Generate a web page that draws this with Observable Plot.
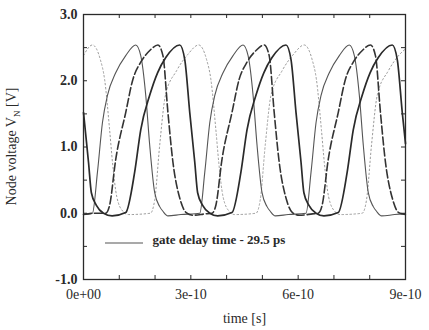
<!DOCTYPE html>
<html><head><meta charset="utf-8">
<script src="https://cdn.jsdelivr.net/npm/d3@7"></script>
<script src="https://cdn.jsdelivr.net/npm/@observablehq/plot@0.6"></script>
<style>body{margin:0;background:#fff;}</style>
</head><body><div id="chart"></div>
<script>
// time values in units of 1e-10 s, node voltages in V
const T_UNIT = 1e-10;

// thin solid node
const thinT = [0, 0.25, 0.39, 0.53, 0.67, 0.90, 1.18, 1.46, 1.60, 1.74, 1.85, 1.99, 2.13, 2.22, 2.36, 2.72,
  3.25, 3.39, 3.53, 3.67, 3.90, 4.18, 4.46, 4.60, 4.74, 4.85, 4.99, 5.13, 5.22, 5.36, 5.72,
  6.22, 6.36, 6.50, 6.64, 6.87, 7.15, 7.43, 7.57, 7.71, 7.82, 7.96, 8.10, 8.19, 8.33, 8.70, 9.0];
const thinV = [-0.02, 0.0, 0.62, 1.37, 1.78, 2.12, 2.38, 2.54, 2.38, 1.78, 1.03, 0.31, 0.10, 0.03, -0.04, -0.02,
  0.0, 0.62, 1.37, 1.78, 2.12, 2.38, 2.54, 2.38, 1.78, 1.03, 0.31, 0.10, 0.03, -0.04, -0.02,
  0.0, 0.62, 1.37, 1.78, 2.12, 2.38, 2.54, 2.38, 1.78, 1.03, 0.31, 0.10, 0.03, -0.04, -0.02, -0.01];

// dashed node
const dashT = [0, 0.30, 0.62,
  0.73, 0.90, 1.18, 1.38, 1.60, 1.86, 2.08, 2.22, 2.36, 2.50, 2.70, 2.87, 3.06, 3.40,
  3.59, 3.70, 3.87, 4.15, 4.35, 4.57, 4.83, 5.05, 5.19, 5.33, 5.47, 5.67, 5.84, 6.03, 6.40,
  6.56, 6.67, 6.84, 7.12, 7.32, 7.54, 7.80, 8.02, 8.16, 8.30, 8.44, 8.64, 8.81, 9.0];
const dashV = [-0.02, 0.0, 0.0,
  0.12, 0.81, 1.52, 2.02, 2.28, 2.46, 2.54, 2.38, 1.52, 0.77, 0.21, 0.01, -0.03, -0.01,
  0.0, 0.12, 0.81, 1.52, 2.02, 2.28, 2.46, 2.54, 2.38, 1.52, 0.77, 0.21, 0.01, -0.03, -0.01,
  0.0, 0.12, 0.81, 1.52, 2.02, 2.28, 2.46, 2.54, 2.38, 1.52, 0.77, 0.21, 0.01, -0.02];

// thick solid node
const thickT = [0, 0.06, 0.14, 0.22, 0.36, 0.56, 0.80,
  1.18, 1.43, 1.60, 1.85, 2.07, 2.30, 2.69, 2.83, 2.97, 3.11, 3.19, 3.33, 3.53, 3.75,
  4.15, 4.40, 4.57, 4.82, 5.04, 5.27, 5.66, 5.80, 5.94, 6.08, 6.16, 6.30, 6.50, 6.72,
  7.12, 7.37, 7.54, 7.79, 8.01, 8.24, 8.63, 8.77, 8.91, 9.0];
const thickV = [1.52, 1.20, 0.77, 0.31, 0.12, 0.0, -0.04,
  0.01, 0.62, 1.26, 1.78, 2.12, 2.35, 2.54, 2.32, 1.52, 0.77, 0.31, 0.12, 0.0, -0.04,
  0.01, 0.62, 1.26, 1.78, 2.12, 2.35, 2.54, 2.32, 1.52, 0.77, 0.31, 0.12, 0.0, -0.04,
  0.01, 0.62, 1.26, 1.78, 2.12, 2.35, 2.54, 2.32, 1.52, 1.05];

// dotted node
const dotT = [0, 0.25, 0.47, 0.59, 0.73, 0.81, 0.93, 1.10, 1.25,
  1.87, 1.99, 2.13, 2.29, 2.60, 2.92, 3.22, 3.44, 3.56, 3.70, 3.78, 3.90, 4.07, 4.22,
  4.82, 4.94, 5.08, 5.24, 5.55, 5.87, 6.17, 6.39, 6.51, 6.65, 6.73, 6.85, 7.02, 7.17,
  7.79, 7.91, 8.05, 8.21, 8.52, 8.84, 9.0];
const dotV = [2.38, 2.54, 2.32, 2.02, 1.26, 0.77, 0.25, 0.03, -0.02,
  0.0, 0.2, 1.03, 1.78, 2.15, 2.4, 2.54, 2.32, 2.02, 1.26, 0.77, 0.25, 0.03, -0.02,
  0.0, 0.2, 1.03, 1.78, 2.15, 2.4, 2.54, 2.32, 2.02, 1.26, 0.77, 0.25, 0.03, -0.02,
  0.0, 0.2, 1.03, 1.78, 2.15, 2.4, 2.48];

const xTicks = [0, 3e-10, 6e-10, 9e-10];
const xTickLabels = ["0e+00", "3e-10", "6e-10", "9e-10"];
const xMinorTicks = [0, 1e-10, 2e-10, 3e-10, 4e-10, 5e-10, 6e-10, 7e-10, 8e-10, 9e-10];
const yTicks = [-1, 0, 1, 2, 3];
const yMinorTicks = [-1, -0.5, 0, 0.5, 1, 1.5, 2, 2.5, 3];
const xLabel = "time [s]";
const yLabelMain = "Node voltage V";
const yLabelSub = "N";
const yLabelUnit = " [V]";
const legendLabel = "gate delay time - 29.5 ps";

const rows = (ts, vs) => ts.map((t, i) => ({t: t * T_UNIT, v: vs[i]}));
const thin = rows(thinT, thinV), dash = rows(dashT, dashV), thick = rows(thickT, thickV), dot = rows(dotT, dotV);

const W = 429, H = 330, ML = 83, MR = 24, MT = 14, MB = 51;
const innerW = W - ML - MR, innerH = H - MT - MB;
const ink = "#2a2a2a";

const chart = Plot.plot({
  width: W, height: H,
  marginLeft: ML, marginRight: MR, marginTop: MT, marginBottom: MB,
  style: {fontFamily: "'Liberation Serif', 'Times New Roman', serif", background: "#fff", color: ink},
  x: {domain: [0, 9e-10]},
  y: {domain: [-1, 3]},
  marks: [
    Plot.line(dot, {x: "t", y: "v", curve: "monotone-x", stroke: "#9a9a9a", strokeWidth: 1, strokeDasharray: "1.5,2.5"}),
    Plot.line(thin, {x: "t", y: "v", curve: "monotone-x", stroke: "#555", strokeWidth: 1.1}),
    Plot.line(dash, {x: "t", y: "v", curve: "monotone-x", stroke: "#333", strokeWidth: 1.6, strokeDasharray: "8,3"}),
    Plot.line(thick, {x: "t", y: "v", curve: "monotone-x", stroke: "#2a2a2a", strokeWidth: 1.7}),
    Plot.frame({stroke: ink, strokeWidth: 1.3}),
    Plot.tickX(xMinorTicks, {x: d => d, insetTop: innerH - 4, stroke: ink}),
    Plot.tickX(xMinorTicks, {x: d => d, insetBottom: innerH - 4, stroke: ink}),
    Plot.tickY(yMinorTicks, {y: d => d, insetRight: innerW - 4, stroke: ink}),
    Plot.tickY(yMinorTicks, {y: d => d, insetLeft: innerW - 4, stroke: ink}),
    Plot.axisY({ticks: yTicks, tickSize: 0, tickPadding: 6, tickFormat: d => d.toFixed(1), fontSize: 14, fontWeight: "bold", label: null}),
    Plot.axisX({ticks: xTicks, tickSize: 0, tickPadding: 10, tickFormat: d => xTickLabels[xTicks.indexOf(d)], fontSize: 14, label: null}),
    Plot.text([xLabel], {frameAnchor: "bottom", dy: 43, fontSize: 14, fill: ink}),
    Plot.text([legendLabel], {frameAnchor: "bottom-left", dx: 69, dy: -36, textAnchor: "start", fontSize: 13, fontWeight: "bold", fill: ink})
  ]
});
document.getElementById("chart").appendChild(chart);

const svg = d3.select(chart);
// legend sample line (thin solid)
svg.append("line")
  .attr("x1", ML + 22).attr("x2", ML + 60)
  .attr("y1", H - MB - 36).attr("y2", H - MB - 36)
  .attr("stroke", "#555").attr("stroke-width", 1.1);
// rotated y label with subscript
const yl = svg.append("text")
  .attr("transform", `translate(13,${MT + innerH / 2}) rotate(-90)`)
  .attr("text-anchor", "middle")
  .attr("dominant-baseline", "middle")
  .attr("font-size", 14)
  .attr("fill", ink)
  .attr("font-family", "'Liberation Serif', 'Times New Roman', serif");
yl.append("tspan").text(yLabelMain);
yl.append("tspan").attr("baseline-shift", "sub").attr("font-size", 9).text(yLabelSub);
yl.append("tspan").text(yLabelUnit);
</script>
</body></html>
